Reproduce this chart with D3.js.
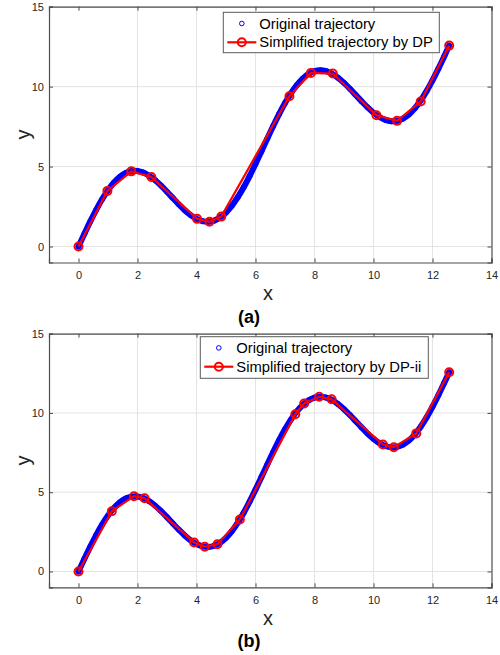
<!DOCTYPE html>
<html><head><meta charset="utf-8">
<script src="https://cdn.jsdelivr.net/npm/d3@7"></script>
<style>body{margin:0;background:#fff}svg{display:block}text{font-family:"Liberation Sans",Arial,sans-serif}</style>
</head><body><svg id="c" width="500" height="655"></svg>
<script>
// Original trajectory
const origX = [0,0.2,0.4,0.6,0.8,1.0,1.2,1.4,1.6,1.8,2.0,2.2,2.4,2.6,2.8,3.0,3.2,3.4,3.6,3.8,4.0,4.2,4.4,4.6,4.8,5.0,5.2,5.4,5.6,5.8,6.0,6.2,6.4,6.6,6.8,7.0,7.2,7.4,7.6,7.8,8.0,8.2,8.4,8.6,8.8,9.0,9.2,9.4,9.6,9.8,10.0,10.2,10.4,10.6,10.8,11.0,11.2,11.4,11.6,11.8,12.0,12.2,12.4,12.566];
const origY = [0,0.796,1.568,2.294,2.952,3.524,3.996,4.356,4.599,4.721,4.728,4.626,4.426,4.147,3.805,3.423,3.025,2.634,2.272,1.964,1.730,1.585,1.545,1.619,1.811,2.123,2.549,3.082,3.706,4.406,5.162,5.951,6.750,7.535,8.282,8.971,9.581,10.096,10.504,10.796,10.968,11.022,10.964,10.803,10.555,10.236,9.869,9.474,9.077,8.700,8.368,8.100,7.917,7.832,7.857,8.000,8.262,8.642,9.132,9.719,10.390,11.125,11.903,12.566];
// Simplified by DP (panel a)
const dpX = [0,0.98,1.79,2.47,4.02,4.44,4.84,7.15,7.88,8.62,10.1,10.8,11.6,12.566];
const dpY = [0,3.48,4.70,4.35,1.73,1.55,1.87,9.40,10.86,10.82,8.21,7.86,9.07,12.566];
// Simplified by DP-ii (panel b)
const dpiiX = [0,1.13,1.88,2.24,3.92,4.28,4.71,5.47,7.35,7.65,8.16,8.58,10.32,10.69,11.45,12.566];
const dpiiY = [0,3.80,4.75,4.62,1.83,1.56,1.72,3.28,9.92,10.60,11.02,10.86,8.01,7.84,8.71,12.566];
const xTicks = [0,2,4,6,8,10,12,14];
const yTicks = [0,5,10,15];
const panelLabels = ["(a)","(b)"];
const legendLabels = [["Original trajectory","Simplified trajectory by DP"],["Original trajectory","Simplified trajectory by DP-ii"]];

const svg = d3.select("#c");
const orig = origX.map((x,i)=>[x,origY[i]]);
const panels = [
  {top:6.7,bottom:262.5,simp:dpX.map((x,i)=>[x,dpY[i]]),leg:{x:223.3,y:12.3,w:216,h:40.4},lab:panelLabels[0],labY:322.5,xlabY:300,legs:legendLabels[0]},
  {top:333.7,bottom:587.3,simp:dpiiX.map((x,i)=>[x,dpiiY[i]]),leg:{x:200.3,y:336.7,w:228,h:41.6},lab:panelLabels[1],labY:647,xlabY:625,legs:legendLabels[1]}
];
const axisColor = "#4d4d4d";
panels.forEach(p=>{
  const x = d3.scaleLinear().domain([-1,14]).range([49,491.5]);
  const y = d3.scaleLinear().domain([-1,15]).range([p.bottom,p.top]);
  const g = svg.append("g");
  // grid
  g.append("g").selectAll("line").data(xTicks.slice(1,-1)).join("line")
    .attr("x1",d=>x(d)).attr("x2",d=>x(d)).attr("y1",p.top).attr("y2",p.bottom)
    .attr("stroke","#e3e3e3").attr("stroke-width",1);
  g.append("g").selectAll("line").data(yTicks).join("line")
    .attr("x1",x(-1)).attr("x2",x(14)).attr("y1",d=>y(d)).attr("y2",d=>y(d))
    .attr("stroke","#e3e3e3").attr("stroke-width",1);
  // axes
  const xa = g.append("g").attr("transform",`translate(0,${p.bottom})`)
    .call(d3.axisBottom(x).tickValues(xTicks).tickSize(-4).tickPadding(9).tickFormat(d3.format("d")));
  const xt = g.append("g").attr("transform",`translate(0,${p.top})`)
    .call(d3.axisTop(x).tickValues(xTicks).tickSize(-4).tickFormat(""));
  const ya = g.append("g").attr("transform",`translate(${x(-1)},0)`)
    .call(d3.axisLeft(y).tickValues(yTicks).tickSize(-4).tickPadding(5).tickFormat(d3.format("d")));
  const yr = g.append("g").attr("transform",`translate(${x(14)},0)`)
    .call(d3.axisRight(y).tickValues(yTicks).tickSize(-4).tickFormat(""));
  [xa,xt,ya,yr].forEach(a=>{
    a.select(".domain").attr("stroke",axisColor).attr("stroke-width",1.2);
    a.selectAll(".tick line").attr("stroke",axisColor);
    a.selectAll(".tick text").attr("fill","#262626").attr("font-size",11).attr("font-family","Liberation Sans, Arial, sans-serif");
  });
  // original trajectory
  const line = d3.line().x(d=>x(d[0])).y(d=>y(d[1]));
  g.append("path").datum(orig).attr("d",line.curve(d3.curveCatmullRom)).attr("fill","none")
    .attr("stroke","#0000ff").attr("stroke-width",6).attr("stroke-linecap","round");
  g.append("g").selectAll("circle").data(orig).join("circle")
    .attr("cx",d=>x(d[0])).attr("cy",d=>y(d[1])).attr("r",2.5)
    .attr("fill","none").attr("stroke","#0000ff").attr("stroke-width",1);
  // simplified
  const l2 = d3.line().x(d=>x(d[0])).y(d=>y(d[1]));
  g.append("path").datum(p.simp).attr("d",l2).attr("fill","none").attr("stroke","#ff0000").attr("stroke-width",2.2);
  g.append("g").selectAll("circle").data(p.simp).join("circle")
    .attr("cx",d=>x(d[0])).attr("cy",d=>y(d[1])).attr("r",4)
    .attr("fill","none").attr("stroke","#ff0000").attr("stroke-width",2);
  // labels
  g.append("text").attr("x",268).attr("y",p.xlabY).attr("text-anchor","middle").attr("font-size",20).attr("fill","#262626").text("x");
  g.append("text").attr("transform",`translate(30,${(p.top+p.bottom)/2}) rotate(-90)`).attr("text-anchor","middle").attr("font-size",20).attr("fill","#262626").text("y");
  g.append("text").attr("x",249).attr("y",p.labY).attr("text-anchor","middle").attr("font-size",18).attr("font-weight","bold").attr("fill","#000").text(p.lab);
  // legend
  const L = p.leg;
  const lg = g.append("g");
  lg.append("rect").attr("x",L.x).attr("y",L.y).attr("width",L.w).attr("height",L.h).attr("fill","#fff").attr("stroke","#5a5a5a").attr("stroke-width",1);
  const mx = L.x+18.5, r1 = L.y+11.2, r2 = L.y+30;
  lg.append("circle").attr("cx",mx).attr("cy",r1).attr("r",2.3).attr("fill","none").attr("stroke","#0000ff").attr("stroke-width",1);
  lg.append("line").attr("x1",L.x+4).attr("x2",L.x+33).attr("y1",r2).attr("y2",r2).attr("stroke","#ff0000").attr("stroke-width",2.2);
  lg.append("circle").attr("cx",mx).attr("cy",r2).attr("r",4).attr("fill","none").attr("stroke","#ff0000").attr("stroke-width",2);
  lg.selectAll("text.l").data(p.legs).join("text").attr("class","l")
    .attr("x",L.x+36).attr("y",(d,i)=>i===0?r1+5:r2+5).attr("font-size",14.8).attr("fill","#000").text(d=>d);
});
</script></body></html>
